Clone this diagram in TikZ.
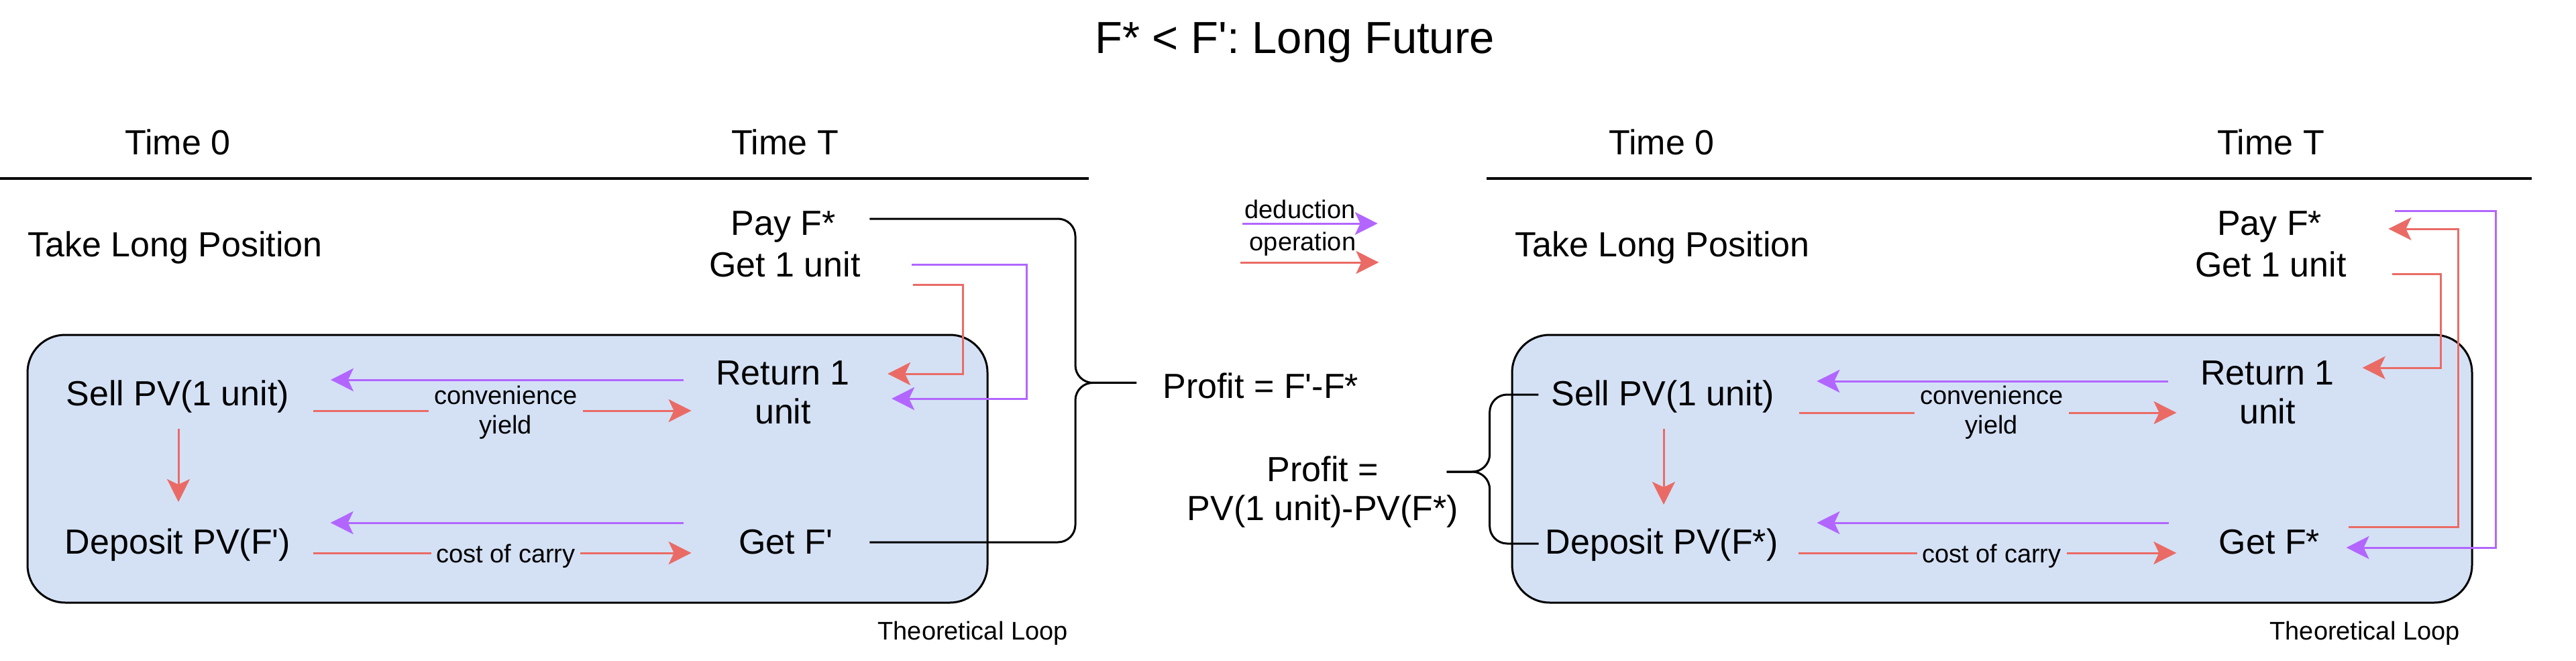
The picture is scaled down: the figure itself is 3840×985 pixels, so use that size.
\documentclass[tikz,border=0pt]{standalone}
\usepackage{fontspec}
\setmainfont{Liberation Sans}[Ligatures=TeXOff]
\usetikzlibrary{arrows.meta,calc}
\definecolor{boxblue}{HTML}{D4E1F5}
\definecolor{opred}{HTML}{EA6B66}
\definecolor{dedpurple}{HTML}{B266FF}
\begin{document}
\begin{tikzpicture}[x=0.5pt,y=-0.5pt,
  txt/.style={inner sep=0pt, font=\fontsize{26}{29}\selectfont, anchor=base},
  small/.style={inner sep=0pt, font=\fontsize{19}{22}\selectfont, anchor=base},
  ttl/.style={inner sep=0pt, font=\fontsize{33.5}{40}\selectfont, anchor=base},
  loopbox/.style={draw=black, line width=1.5pt, fill=boxblue, rounded corners=28pt},
  rulebar/.style={draw=black, line width=2pt},
  bracket/.style={draw=black, line width=1.5pt, rounded corners=13pt},
  tipped/.style={-{Stealth[length=17pt,width=17pt,inset=4pt]}, line width=1.5pt},
  ded/.style={tipped, draw=dedpurple},
  ope/.style={tipped, draw=opred},
  lbl/.style={small, fill=boxblue, inner xsep=4pt, inner ysep=1pt}]
\useasboundingbox (0,0) rectangle (3840,985);

% loop boxes
\draw[loopbox] (41,499) rectangle (1472,898);
\draw[loopbox] (2254,499) rectangle (3685,898);

% title
\node[ttl] (title) at (1930,79) {F* < F': Long Future};

% ---------- left ----------
\draw[rulebar] (0,266) -- (1623,266);
\node[txt] (time0L) at (265,230) {Time 0};
\node[txt] (timeTL) at (1170,230) {Time T};
\node[txt, anchor=base west] (takeL) at (41,382) {Take Long Position};
\node[txt] (payL) at (1168,350) {Pay F*};
\node[txt] (getL) at (1170,412) {Get 1 unit};
\node[txt] (sellL) at (265,604) {Sell PV(1 unit)};
\node[txt] (depL) at (265,825) {Deposit PV(F')};
\node[txt, align=center, anchor=center] (retL) at (1167,585) {Return 1\\unit};
\node[txt] (getFL) at (1171,825) {Get F'};
\node[small, anchor=base east] (loopL) at (1592,953) {Theoretical Loop};

\draw[ded] ($(retL.west)+(-48,-19)$) -- ++(-526,0);
\draw[ope] ($(sellL.base east)+(35,8)$) -- ++(564,0);
\node[lbl, align=center, anchor=center] (convL) at (754,615) {convenience\\yield};
\draw[ope] ($(sellL.base)+(1,35)$) -- ($(depL.base)+(1,-77)$);
\draw[ded] ($(getFL.base west)+(-82,-46)$) -- ++(-526,0);
\draw[ope] ($(depL.base east)+(33,-1)$) -- ++(564,0);
\node[lbl] (costL) at (754,838) {cost of carry};
\draw[ope] ($(getL.base east)+(78,12)$) -- ++(74,0) |- ($(retL.east)+(56,-28)$);
\draw[ded] ($(getL.base east)+(76,-18)$) -- ++(171,0) |- ($(retL.east)+(62,9)$);

% ---------- middle ----------
\node[small] (dedLbl) at (1938,325) {deduction};
\draw[ded] ($(dedLbl.base west)+(-3.5,8)$) -- ++(202,0);
\node[small] (opLbl) at (1942,373) {operation};
\draw[ope] ($(opLbl.base west)+(-13,18)$) -- ++(206,0);
\node[txt, anchor=base west] (profit1) at (1733,593) {Profit = F'-F*};
\node[txt, align=center, anchor=center] (profit2) at (1972,733) {Profit =\\PV(1 unit)-PV(F*)};

\draw[bracket] ($(payL.base east)+(50,-24)$) -| ($(profit1.west)+(-130,-4)$) -- ($(profit1.west)+(-39,-4)$);
\draw[bracket] ($(getFL.base east)+(55,-17)$) -| ($(profit1.west)+(-130,-4)$) -- ($(profit1.west)+(-39,-4)$);

% ---------- right ----------
\draw[rulebar] (2216,266) -- (3774,266);
\node[txt] (time0R) at (2477,230) {Time 0};
\node[txt] (timeTR) at (3385,230) {Time T};
\node[txt, anchor=base west] (takeR) at (2258,382) {Take Long Position};
\node[txt] (payR) at (3383,350) {Pay F*};
\node[txt] (getR) at (3385,412) {Get 1 unit};
\node[txt] (sellR) at (2479,604) {Sell PV(1 unit)};
\node[txt] (depR) at (2477,825) {Deposit PV(F*)};
\node[txt, align=center, anchor=center] (retR) at (3380,585) {Return 1\\unit};
\node[txt] (getFR) at (3383,825) {Get F*};
\node[small, anchor=base east] (loopR) at (3667,953) {Theoretical Loop};

\draw[ded] ($(retR.west)+(-47.5,-17)$) -- ++(-524,0);
\draw[ope] ($(sellR.base east)+(36,11)$) -- ++(563,0);
\node[lbl, align=center, anchor=center] (convR) at (2969,615) {convenience\\yield};
\draw[ope] ($(sellR.base)+(1,35)$) -- ($(depR.base)+(3,-73)$);
\draw[ded] ($(getFR.base west)+(-75,-46)$) -- ++(-524,0);
\draw[ope] ($(depR.base east)+(30.5,-1)$) -- ++(563,0);
\node[lbl] (costR) at (2969,838) {cost of carry};

\draw[ded] ($(payR.base east)+(109,-36)$) -- ++(150,0) |- ($(getFR.base east)+(39,-9)$);
\draw[ope] ($(getFR.base east)+(42,-40)$) -- ++(164,0) |- ($(payR.base east)+(99,-9)$);
\draw[ope] ($(getR.base east)+(67.5,-4)$) -- ++(73,0) |- ($(retR.east)+(41.5,-37)$);

\draw[bracket] ($(sellR.base west)+(-19,-16)$) -| ($(profit2.east)+(46,-30)$) -- ($(profit2.east)+(-18,-30)$);
\draw[bracket] ($(depR.base west)+(-9.5,-15)$) -| ($(profit2.east)+(46,-30)$) -- ($(profit2.east)+(-18,-30)$);
\end{tikzpicture}
\end{document}
